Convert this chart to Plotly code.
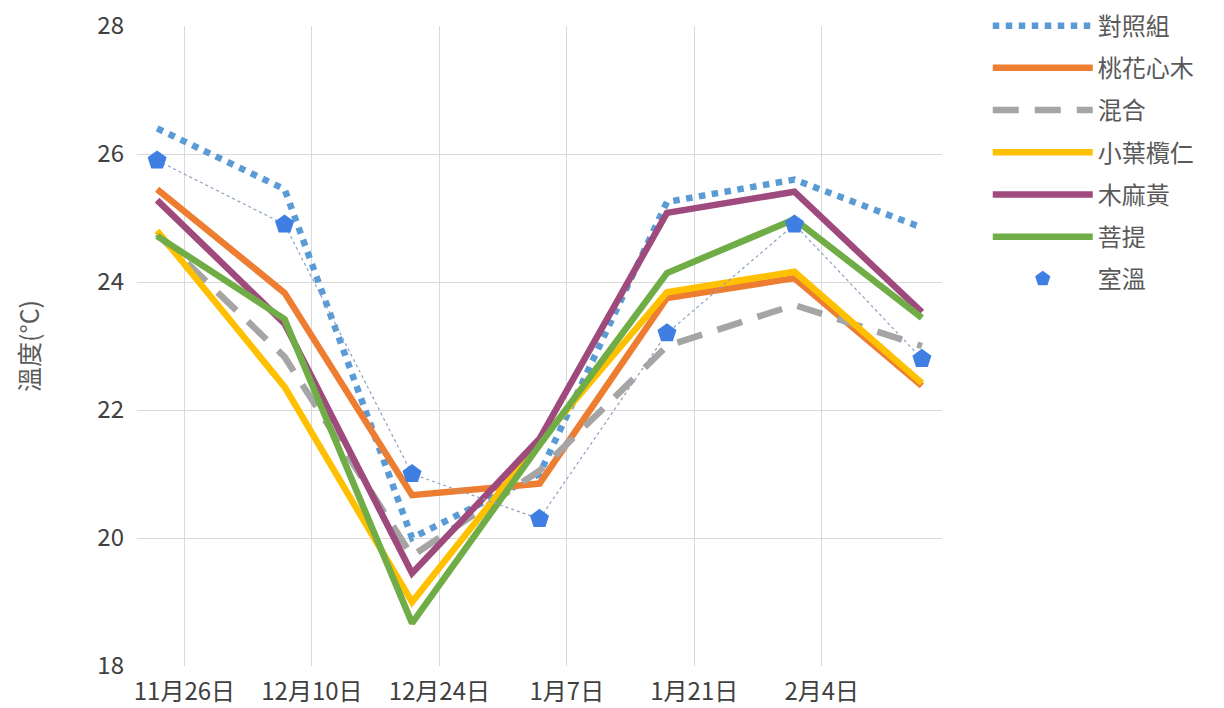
import plotly.graph_objects as go

# Sampling dates (every 14 days) and axis ticks
dates = ["2019-11-23", "2019-12-07", "2019-12-21", "2020-01-04",
         "2020-01-18", "2020-02-01", "2020-02-15"]
tick_dates = ["2019-11-26", "2019-12-10", "2019-12-24", "2020-01-07",
              "2020-01-21", "2020-02-04"]
tick_labels = ["11月26日", "12月10日", "12月24日", "1月7日", "1月21日", "2月4日"]

# Temperature readings (°C)
control = [26.4, 25.45, 20.0, 21.0, 25.25, 25.6, 24.85]        # 對照組
mahogany = [25.45, 23.83, 20.67, 20.85, 23.75, 24.06, 22.38]   # 桃花心木
mixed = [24.75, 22.83, 19.72, 21.05, 23.0, 23.64, 23.0]        # 混合
terminalia = [24.8, 22.36, 19.0, 21.5, 23.84, 24.16, 22.42]    # 小葉欖仁
casuarina = [25.28, 23.35, 19.45, 21.55, 25.08, 25.41, 23.53]  # 木麻黃
bodhi = [24.72, 23.42, 18.67, 21.45, 24.14, 24.98, 23.44]      # 菩提
room = [25.9, 24.9, 21.0, 20.3, 23.2, 24.9, 22.8]              # 室溫

FONT = "Noto Sans CJK TC"

series = [
    ("對照組", control, "#5B9BD5", "dot"),
    ("桃花心木", mahogany, "#ED7D31", "solid"),
    ("混合", mixed, "#A5A5A5", "26px,16px"),
    ("小葉欖仁", terminalia, "#FFC000", "solid"),
    ("木麻黃", casuarina, "#9E4A7C", "solid"),
    ("菩提", bodhi, "#70AD47", "solid"),
]

fig = go.Figure()
for name, vals, color, dash in series:
    fig.add_trace(go.Scatter(
        x=dates, y=vals, name=name, mode="lines", legendgroup=name,
        line=dict(color=color, width=6.5, dash=dash),
    ))

# Room temperature: thin dotted connector plus pentagon markers
fig.add_trace(go.Scatter(
    x=dates, y=room, mode="lines", showlegend=False, hoverinfo="skip",
    line=dict(color="#8AA2C4", width=1.2, dash="dot"),
))
fig.add_trace(go.Scatter(
    x=dates, y=room, name="室溫", mode="markers", legendgroup="室溫",
    marker=dict(symbol="pentagon", size=20, color="#3F7FE3"),
))

fig.update_layout(
    width=1224, height=708,
    margin=dict(l=137, r=282, t=26, b=42, autoexpand=False),
    paper_bgcolor="white", plot_bgcolor="white",
    font=dict(family=FONT, size=24, color="#404040"),
    legend=dict(
        xref="container", yref="container", x=0.807, y=0.995,
        xanchor="left", yanchor="top",
        font=dict(family=FONT, size=24, color="#595959"),
        itemwidth=100, tracegroupgap=8, bgcolor="rgba(0,0,0,0)",
    ),
    xaxis=dict(
        type="date", automargin=False,
        range=["2019-11-20 19:00", "2020-02-17 05:00"],
        tickmode="array", tickvals=tick_dates, ticktext=tick_labels,
        showgrid=True, gridcolor="#D9D9D9", gridwidth=1,
        zeroline=False, showline=False,
        tickfont=dict(family=FONT, size=24, color="#404040"),
        ticklabelstandoff=9,
    ),
    yaxis=dict(
        range=[18, 28], dtick=2, tick0=18, automargin=False,
        showgrid=True, gridcolor="#D9D9D9", gridwidth=1,
        zeroline=False, showline=False,
        tickfont=dict(family=FONT, size=24, color="#404040"),
        ticklabelstandoff=12,
        title=dict(text="溫度(°C)", font=dict(family=FONT, size=25, color="#595959"),
                   standoff=50),
    ),
)

fig.write_html("out.html")
